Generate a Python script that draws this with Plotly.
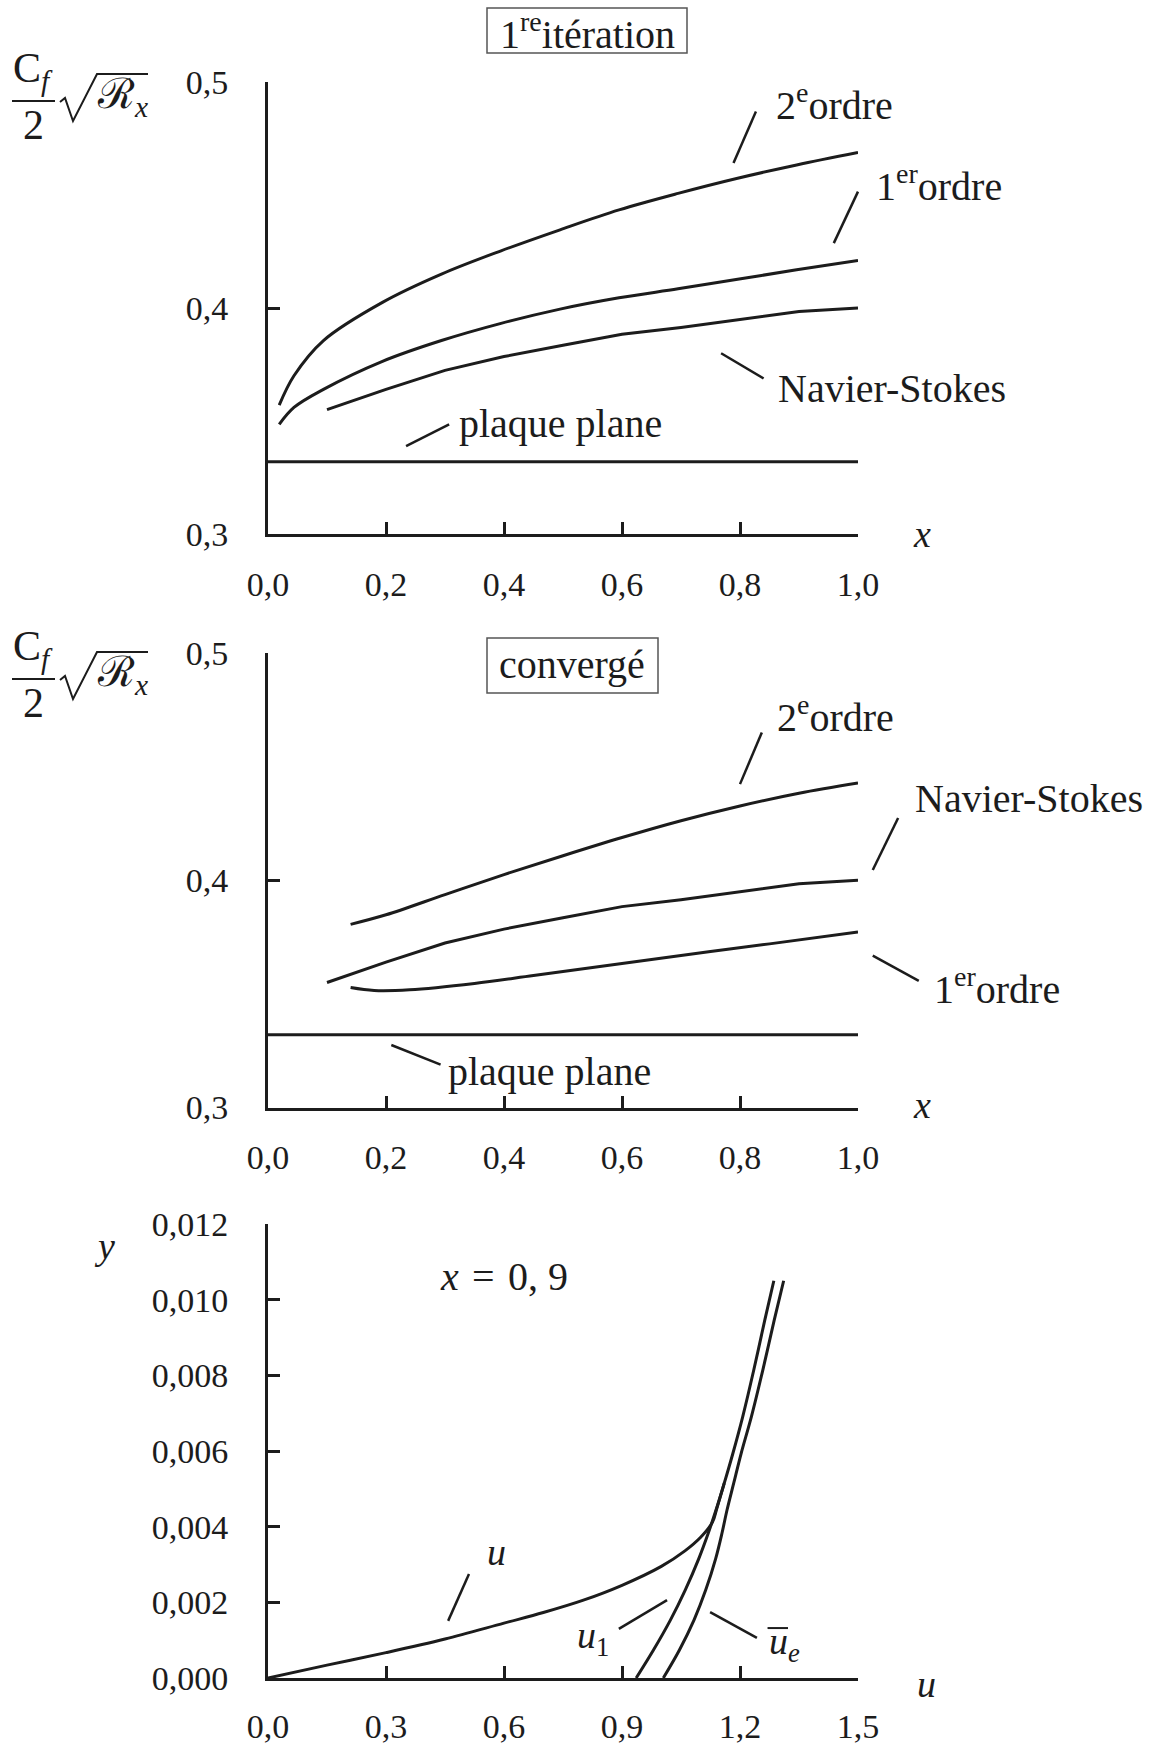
import plotly.graph_objects as go

W, H = 1155, 1746
INK = "#1c1c1c"
FONT = "Liberation Serif, DejaVu Serif, serif"

# ---------------- data ----------------
# Panel 1 : first iteration, Cf/2 * sqrt(Rx) versus x
x_it_order2 = [0.019, 0.044, 0.094, 0.194, 0.294, 0.395, 0.495, 0.595, 0.695, 0.796, 0.896, 1.0]
cf_it_order2 = [0.357, 0.370, 0.3856, 0.4025, 0.415, 0.4253, 0.4346, 0.4434, 0.4507, 0.4574, 0.4633, 0.4688]
x_it_order1 = [0.019, 0.044, 0.094, 0.194, 0.294, 0.395, 0.495, 0.595, 0.695, 0.796, 0.896, 1.0]
cf_it_order1 = [0.3485, 0.356, 0.364, 0.3764, 0.3856, 0.3932, 0.3995, 0.4045, 0.4085, 0.4127, 0.4169, 0.421]

# Navier-Stokes reference (same in both panels)
x_ns = [0.1, 0.2, 0.3, 0.4, 0.5, 0.6, 0.7, 0.8, 0.9, 1.0]
cf_ns = [0.355, 0.364, 0.3724, 0.3785, 0.3835, 0.3884, 0.3914, 0.395, 0.3985, 0.400]

# flat plate (Blasius)
x_flat = [0.0, 1.0]
cf_flat = [0.332, 0.332]

# Panel 2 : converged solution
x_cv_order2 = [0.14, 0.2, 0.3, 0.4, 0.5, 0.6, 0.7, 0.8, 0.9, 1.0]
cf_cv_order2 = [0.3806, 0.3848, 0.3937, 0.4025, 0.4108, 0.4188, 0.4262, 0.4327, 0.4383, 0.4428]
x_cv_order1 = [0.14, 0.18, 0.24, 0.35, 0.45, 0.55, 0.65, 0.75, 0.85, 1.0]
cf_cv_order1 = [0.3528, 0.3515, 0.3518, 0.3546, 0.3581, 0.3616, 0.3651, 0.3686, 0.3720, 0.3772]

# Panel 3 : velocity profiles at x = 0.9
u_prof = [0.0, 0.15, 0.30, 0.45, 0.60, 0.70, 0.80, 0.90, 1.00, 1.06, 1.10, 1.13, 1.141, 1.16]
y_u = [0.0, 0.00034, 0.00067, 0.00103, 0.00145, 0.00173, 0.00205, 0.00245, 0.00295, 0.00336,
       0.00372, 0.00412, 0.00448, 0.00515]
u1_prof = [0.936, 0.980, 1.023, 1.061, 1.095, 1.119, 1.139, 1.160, 1.182, 1.207, 1.235, 1.263, 1.286]
y_u1 = [0.0, 0.00074, 0.00153, 0.00233, 0.00315, 0.00382, 0.00444, 0.00515, 0.00594, 0.00691,
        0.00814, 0.00946, 0.01050]
ue_prof = [1.005, 1.046, 1.083, 1.113, 1.138, 1.154, 1.167, 1.184, 1.203, 1.229, 1.258, 1.287, 1.311]
y_ue = [0.0, 0.00074, 0.00153, 0.00233, 0.00315, 0.00382, 0.00444, 0.00515, 0.00594, 0.00691,
        0.00814, 0.00946, 0.01050]

# tick labels (French decimal comma)
cf_ticks = [0.3, 0.4, 0.5]
cf_ticktext = ["0,3", "0,4", "0,5"]
x_ticks = [0.0, 0.2, 0.4, 0.6, 0.8, 1.0]
x_ticktext = ["0,0", "0,2", "0,4", "0,6", "0,8", "1,0"]
u_ticks = [0.0, 0.3, 0.6, 0.9, 1.2, 1.5]
u_ticktext = ["0,0", "0,3", "0,6", "0,9", "1,2", "1,5"]
y_ticks = [0.0, 0.002, 0.004, 0.006, 0.008, 0.010, 0.012]
y_ticktext = ["0,000", "0,002", "0,004", "0,006", "0,008", "0,010", "0,012"]


def px(xp):
    return xp / W


def py(yp):
    return 1 - yp / H


# subplot frames: paper domains and value ranges
XDOM = [px(268), px(858)]
PANELS = {
    1: dict(xd=XDOM, yd=[py(534), py(82)], xr=[0, 1], yr=[0.3, 0.5]),
    2: dict(xd=XDOM, yd=[py(1107.5), py(653)], xr=[0, 1], yr=[0.3, 0.5]),
    3: dict(xd=XDOM, yd=[py(1678), py(1224)], xr=[0, 1.5], yr=[0, 0.012]),
}


def P(k, x, y):
    """data coordinates of panel k -> paper coordinates"""
    p = PANELS[k]
    xp = p["xd"][0] + (x - p["xr"][0]) / (p["xr"][1] - p["xr"][0]) * (p["xd"][1] - p["xd"][0])
    yp = p["yd"][0] + (y - p["yr"][0]) / (p["yr"][1] - p["yr"][0]) * (p["yd"][1] - p["yd"][0])
    return xp, yp


fig = go.Figure()


def curve(x, y, ax, shape="spline"):
    fig.add_trace(go.Scatter(x=x, y=y, mode="lines", xaxis=ax[0], yaxis=ax[1],
                             line=dict(color=INK, width=3, shape=shape, smoothing=1.0),
                             hoverinfo="skip", showlegend=False))


# panel 1
curve(x_it_order2, cf_it_order2, ("x", "y"))
curve(x_it_order1, cf_it_order1, ("x", "y"))
curve(x_ns, cf_ns, ("x", "y"), "linear")
curve(x_flat, cf_flat, ("x", "y"), "linear")
# panel 2
curve(x_cv_order2, cf_cv_order2, ("x2", "y2"))
curve(x_ns, cf_ns, ("x2", "y2"), "linear")
curve(x_cv_order1, cf_cv_order1, ("x2", "y2"))
curve(x_flat, cf_flat, ("x2", "y2"), "linear")
# panel 3
curve(u_prof, y_u, ("x3", "y3"))
curve(u1_prof, y_u1, ("x3", "y3"))
curve(ue_prof, y_ue, ("x3", "y3"))

common = dict(showgrid=False, zeroline=False, showline=True, linewidth=3, linecolor=INK,
              ticks="inside", ticklen=12, tickwidth=3, tickcolor=INK, automargin=False,
              tickfont=dict(family=FONT, size=34, color=INK))

fig.update_layout(
    width=W, height=H, margin=dict(l=0, r=0, t=0, b=0, pad=0),
    paper_bgcolor="white", plot_bgcolor="white", showlegend=False,
    xaxis=dict(domain=PANELS[1]["xd"], range=PANELS[1]["xr"], anchor="y", tickvals=x_ticks,
               ticktext=x_ticktext, ticklabelstandoff=18, **common),
    yaxis=dict(domain=PANELS[1]["yd"], range=PANELS[1]["yr"], anchor="x", tickvals=cf_ticks,
               ticktext=cf_ticktext, ticklabelstandoff=30, **common),
    xaxis2=dict(domain=PANELS[2]["xd"], range=PANELS[2]["xr"], anchor="y2", tickvals=x_ticks,
                ticktext=x_ticktext, ticklabelstandoff=18, **common),
    yaxis2=dict(domain=PANELS[2]["yd"], range=PANELS[2]["yr"], anchor="x2", tickvals=cf_ticks,
                ticktext=cf_ticktext, ticklabelstandoff=30, **common),
    xaxis3=dict(domain=PANELS[3]["xd"], range=PANELS[3]["xr"], anchor="y3", tickvals=u_ticks,
                ticktext=u_ticktext, ticklabelstandoff=16, **common),
    yaxis3=dict(domain=PANELS[3]["yd"], range=PANELS[3]["yr"], anchor="x3", tickvals=y_ticks,
                ticktext=y_ticktext, ticklabelstandoff=30, **common),
)

ann = []
shapes = []


def text(t, x, y, size=40, xanchor="left"):
    ann.append(dict(text=t, x=x, y=y, xref="paper", yref="paper", showarrow=False,
                    xanchor=xanchor, yanchor="middle",
                    font=dict(family=FONT, size=size, color=INK)))


def seg(x0, y0, x1, y1, w=2.5, color=INK):
    shapes.append(dict(type="line", x0=x0, y0=y0, x1=x1, y1=y1, xref="paper", yref="paper",
                       line=dict(color=color, width=w)))


def label(k, t, x, y, size=40):
    xp, yp = P(k, x, y)
    text(t, xp, yp, size=size)


def leader(k, x0, y0, x1, y1, w=2.5):
    a = P(k, x0, y0)
    b = P(k, x1, y1)
    seg(a[0], a[1], b[0], b[1], w)


# y-axis label  Cf/2 sqrt(Rx)  built from pieces
def cf_label(dy):
    text("C<sub><i>f</i></sub>", px(11), py(71 + dy), size=42)
    seg(px(12), py(101 + dy), px(55), py(101 + dy), w=2)
    text("2", px(33), py(125 + dy), size=42, xanchor="center")
    path = "M {} {} L {} {} L {} {} L {} {} L {} {}".format(
        px(60), py(102 + dy), px(65), py(98 + dy), px(73), py(121 + dy),
        px(97), py(74 + dy), px(148), py(74 + dy))
    shapes.append(dict(type="path", path=path, xref="paper", yref="paper",
                       line=dict(color=INK, width=2)))
    text("ℛ<sub><i>x</i></sub>", px(95), py(97 + dy), size=42)


cf_label(0)
cf_label(578)

# boxed panel titles
text("1<sup>re</sup>itération", px(587), py(31), xanchor="center")
shapes.append(dict(type="rect", x0=px(487), x1=px(687), y0=py(8), y1=py(53), xref="paper",
                   yref="paper", line=dict(color="#555555", width=1.5)))
text("convergé", px(572), py(664), xanchor="center")
shapes.append(dict(type="rect", x0=px(487), x1=px(658), y0=py(638), y1=py(693), xref="paper",
                   yref="paper", line=dict(color="#555555", width=1.5)))

# axis titles
text("<i>x</i>", px(922), py(534), size=38, xanchor="center")
text("<i>x</i>", px(922), py(1105), size=38, xanchor="center")
text("<i>u</i>", px(926), py(1684), size=38, xanchor="center")
text("<i>y</i>", px(104), py(1246), size=38, xanchor="center")

# panel 1 curve labels
label(1, "2<sup>e</sup>ordre", 0.858, 0.491)
leader(1, 0.827, 0.487, 0.789, 0.4642)
label(1, "1<sup>er</sup>ordre", 1.027, 0.455)
leader(1, 1.0, 0.4515, 0.959, 0.4287)
label(1, "Navier-Stokes", 0.861, 0.3646)
leader(1, 0.768, 0.380, 0.840, 0.3688)
label(1, "plaque plane", 0.320, 0.3487)
leader(1, 0.234, 0.3389, 0.307, 0.3485)

# panel 2 curve labels
label(2, "2<sup>e</sup>ordre", 0.859, 0.4729)
leader(2, 0.837, 0.465, 0.800, 0.4423)
label(2, "Navier-Stokes", 1.093, 0.436)
leader(2, 1.068, 0.4274, 1.025, 0.4045)
label(2, "1<sup>er</sup>ordre", 1.125, 0.3534)
leader(2, 1.025, 0.3668, 1.103, 0.3557)
label(2, "plaque plane", 0.3025, 0.3157)
leader(2, 0.209, 0.3275, 0.2925, 0.3189)

# panel 3 labels
label(3, "<i>x</i>\u2004=\u20040, 9", 0.432, 0.0106, size=40)
label(3, "<i>u</i>", 0.552, 0.00333, size=38)
leader(3, 0.511, 0.00275, 0.458, 0.00151)
label(3, "<i>u</i><sub>1</sub>", 0.781, 0.00105, size=38)
leader(3, 0.892, 0.0013, 1.0145, 0.00206)
label(3, "<i>u</i><sub><i>e</i></sub>", 1.269, 0.00090, size=38)
leader(3, 1.27, 0.00132, 1.322, 0.00132, w=2)
leader(3, 1.124, 0.00174, 1.243, 0.00106)

fig.update_layout(annotations=ann, shapes=shapes)
fig.write_html("out.html")
